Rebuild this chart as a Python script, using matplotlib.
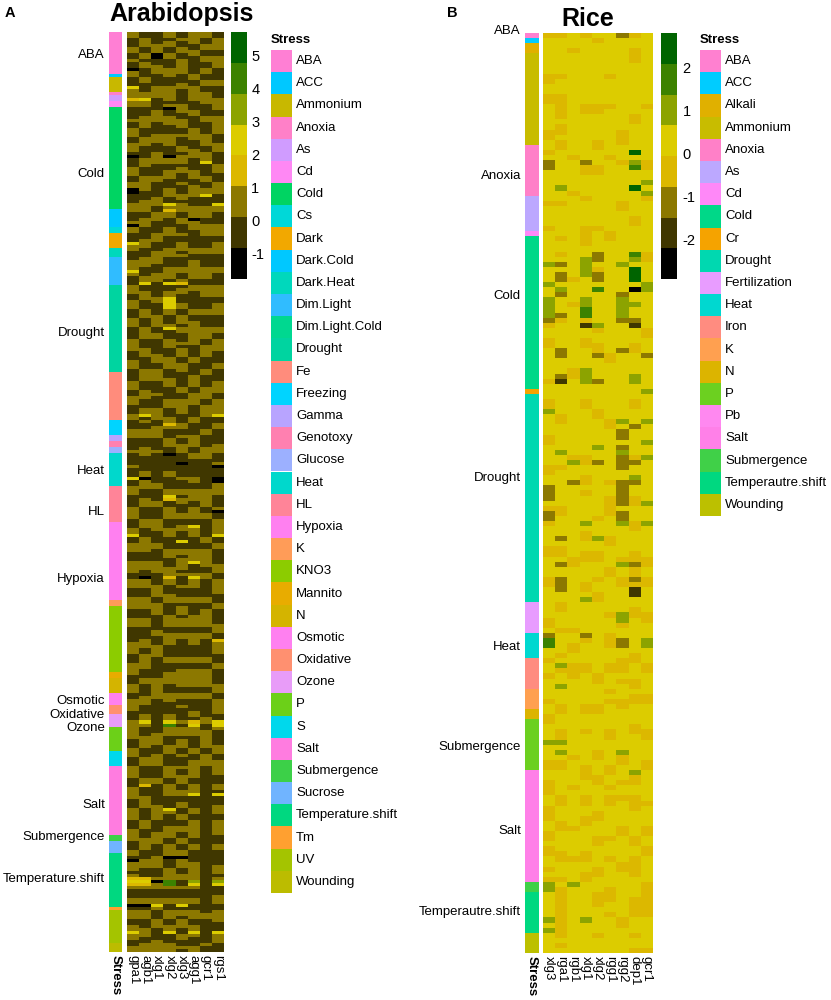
import numpy as np
import matplotlib
matplotlib.use("Agg")
import matplotlib.pyplot as plt
from matplotlib.colors import ListedColormap, BoundaryNorm
from matplotlib.transforms import blended_transform_factory

plt.rcParams['font.family'] = ['Liberation Sans', 'DejaVu Sans']

# colour steps of the expression scale, low -> high
heat_colors = ["#000000", "#403700", "#8C7800", "#DCB800",
               "#DCCC00", "#8CA300", "#3C8200", "#006400"]

# ---------------- Arabidopsis ----------------
arab_genes = ["gpa1", "agb1", "xlg1", "xlg2", "xlg3", "agg1", "gcr1", "rgs1"]
arab_stress = ["ABA", "ACC", "Ammonium", "Anoxia", "As", "Cd", "Cold", "Cs", "Dark",
               "Dark.Cold", "Dark.Heat", "Dim.Light", "Dim.Light.Cold", "Drought", "Fe",
               "Freezing", "Gamma", "Genotoxy", "Glucose", "Heat", "HL", "Hypoxia", "K",
               "KNO3", "Mannito", "N", "Osmotic", "Oxidative", "Ozone", "P", "S", "Salt",
               "Submergence", "Sucrose", "Temperature.shift", "Tm", "UV", "Wounding"]
arab_stress_colors = ["#FF7FD4", "#00C8FF", "#C8B800", "#FF80C8", "#D09CFF", "#FF88F4",
                      "#00D462", "#00D8D8", "#F2A800", "#00C8FF", "#00D8BC", "#30BCFF",
                      "#00D890", "#00D4A0", "#FF8C7C", "#00D4FF", "#B8A4FF", "#FF80B0",
                      "#9CB0FF", "#00D8CC", "#FF8498", "#FF80F0", "#FF9C58", "#8CCC00",
                      "#E8AC00", "#D4B400", "#FF80F0", "#FF9070", "#E89CF8", "#6CD018",
                      "#00D8EC", "#FF7CE0", "#3CD048", "#70B4FF", "#00D880", "#FFA030",
                      "#A4C400", "#BCBC00"]
# samples per stress, in row order
arab_segments = [("ABA", 14), ("ACC", 1), ("Ammonium", 5), ("Anoxia", 1), ("As", 2),
                 ("Cd", 2), ("Cold", 34), ("Dark.Cold", 6), ("Cs", 2), ("Dark", 5),
                 ("Dark.Heat", 3), ("Dim.Light", 9), ("Drought", 29), ("Fe", 16),
                 ("Freezing", 5), ("Gamma", 2), ("Genotoxy", 2), ("Glucose", 2),
                 ("Heat", 11), ("HL", 12), ("Hypoxia", 26), ("K", 2), ("KNO3", 22),
                 ("Mannito", 2), ("N", 5), ("Osmotic", 4), ("Oxidative", 3), ("Ozone", 4),
                 ("P", 8), ("S", 5), ("Salt", 23), ("Submergence", 2), ("Sucrose", 4),
                 ("Temperature.shift", 18), ("Tm", 1), ("UV", 11), ("Wounding", 3)]
arab_row_labels = [("ABA", 7.6), ("Cold", 47.2), ("Drought", 100.1), ("Heat", 146.0),
                   ("HL", 159.6), ("Hypoxia", 181.9), ("Osmotic", 222.6),
                   ("Oxidative", 227.2), ("Ozone", 231.6), ("Salt", 257.1),
                   ("Submergence", 267.7), ("Temperature.shift", 281.7)]
# one string per gene, one digit per sample = colour step
arab_cells = [
    "2211122112 1102211142 2232211112 1122211222 1011122211 2200111222 1112022111 4221112224 2111222112 2211122211 "
    "1122221112 2211112221 1222111221 1122211112 1111211141 1222111122 2211122411 2221112222 1122211122 2211122211 "
    "1112222111 2222111222 1122221112 2222211122 2111222211 1222211122 2211122221 1122102221 2343211122 0122211224 221122",
    "1122211221 2211122111 2242211122 2211122211 1122211122 2221112222 1122211112 2211122211 1224112221 1122211122 "
    "2211122211 1122221112 2211122412 1122211122 2111112202 2211122211 1122211122 2221112221 1022211122 2211122211 "
    "1122211222 2211122111 1222111224 2111222211 1222111122 3111222211 1122211122 2211122211 1343211122 0122211122 211222",
    "1111222001 1222111122 2211112222 1111222111 2222111122 1111122211 2221111222 1112222111 2221111122 1111222211 "
    "2211111222 1122221111 2111122221 1222211112 1111111111 2211112211 1122221111 2211112222 1111222211 2222111112 "
    "2111222211 1111122222 2211111111 1112222111 2222111122 1111111222 2211112222 1111222211 1202211122 4211122211 112222",
    "2212211221 1122211122 2221201122 2111222211 1022112221 1122211423 2211122211 1122211122 2214112244 4422111241 "
    "1122211122 2211122211 1122211122 3211122211 0111112211 1122431122 2211122211 1122211122 2322111222 1111222211 "
    "2222111122 1112222111 2221111224 6222111222 1111222211 2222111142 1111222211 2222011122 2266211122 1122211224 111222",
    "1121122112 2222111221 1111222112 2211211122 1222122111 2111221222 1122111211 2221211122 1123122111 2211222122 "
    "1112122211 2221111122 1122222111 2211211222 1110111121 1122122111 2211221114 1122122221 2111211122 1222122211 "
    "2211111122 1122222211 2211211112 1222122211 2111211222 1122112211 2211221122 1122022211 2211211122 4122122211 221121",
    "2222112211 1111221122 2221112211 1122221112 2211112221 1222211122 2202221111 1122112222 2211221111 1122112222 "
    "2222111122 1111222211 2222111122 1111222211 2211111122 1122221122 2211422211 1122224111 2422211122 1111222211 "
    "2222111122 1122222211 2211112213 4222111122 1122222211 2224111122 1122222211 2211112222 2254211122 1122211224 211122",
    "2211221122 1122112211 2222111122 1111222211 2224111122 1122411122 2211222211 1122111122 2211222211 1122111122 "
    "2211222211 1122111122 2211222211 1122111122 2211111111 1122222211 2211111122 1122222211 2211111122 1122222211 "
    "2211111122 1122222211 2211111122 1122222211 2222111111 1111111111 1111111111 1111111111 1111111111 1112211111 111211",
    "1122221122 2211112211 1122221122 2222111222 1111222111 2222111422 1111222211 2222111122 1111222211 2222111122 "
    "1122221111 2211112222 1122222411 2211111222 1112011100 2222111120 1122222411 2211111222 1122222111 2211111222 "
    "1132222111 2211111222 1122222114 4211111222 1122222111 2214111222 1122222111 2211111222 1254111222 1122221114 222111",
]
arab_level_values = [-1.3, -0.4, 0.55, 1.5, 2.45, 3.4, 4.3, 5.25]
arab_bounds = [-1.79, -0.85, 0.09, 1.03, 1.97, 2.91, 3.85, 4.79, 5.73]
arab_ticks = [-1, 0, 1, 2, 3, 4, 5]

# ---------------- Rice ----------------
rice_genes = ["xlg3", "rga1", "rgb1", "xlg1", "xlg2", "rgg1", "rgg2", "dep1", "gcr1"]
rice_stress = ["ABA", "ACC", "Alkali", "Ammonium", "Anoxia", "As", "Cd", "Cold", "Cr",
               "Drought", "Fertilization", "Heat", "Iron", "K", "N", "P", "Pb", "Salt",
               "Submergence", "Temperautre.shift", "Wounding"]
rice_stress_colors = ["#FF80D0", "#00CCFF", "#E0B000", "#C8BC00", "#FF80C8", "#BCA8FF",
                      "#FF88F8", "#00D888", "#F5A300", "#00D8B0", "#E89CFF", "#00D8D0",
                      "#FF8C80", "#FFA050", "#DCB400", "#6CD020", "#FF88F0", "#FF80E8",
                      "#40D048", "#00D880", "#BCC000"]
rice_segments = [("ABA", 1), ("ACC", 1), ("Alkali", 2), ("Ammonium", 18), ("Anoxia", 10),
                 ("As", 7), ("Cd", 1), ("Cold", 30), ("Cr", 1), ("Drought", 41),
                 ("Fertilization", 6), ("Heat", 5), ("Iron", 6), ("K", 4), ("N", 2),
                 ("P", 10), ("Salt", 22), ("Submergence", 2), ("Temperautre.shift", 8),
                 ("Wounding", 4)]
rice_row_labels = [("ABA", -0.4), ("Anoxia", 28.1), ("Cold", 51.8), ("Drought", 87.6),
                   ("Heat", 120.7), ("Submergence", 140.4), ("Salt", 156.9),
                   ("Temperautre.shift", 173.0)]
rice_cells = [
    "3444444433 4433444443 3443422444 4443444434 4444454445 4455552344 3344444434 4433544443 3444433442 "
    "2243223444 4334444334 4444433426 6443443444 4344334445 4443344333 4433344334 3344343554 4444545444 4",
    "3444444434 4433333433 4334444444 5443444444 3443424224 5244423444 4422444214 4444433444 4454434444 "
    "4443344442 4334244222 4433444344 4434534454 4433444335 4543344444 3344433444 4334443433 3333333343 4",
    "4443444444 4444444444 4444344444 4344444444 4444444434 4443444444 4444443344 4444444444 4443544424 "
    "4444444444 4443344444 4444444344 3344333444 4444444444 4434444434 4444443444 4434444544 4444444444 4",
    "3444444444 4444334444 4444423344 4434444433 3344555544 4455663144 3344445554 4433444444 4443344334 "
    "3444445433 4433444433 4544444423 4444334444 4433444344 4444333444 3344334444 4334433444 4444544444 4",
    "4344444444 4444334444 4334443344 4444444434 4442243224 6444444534 4332444424 4444334444 4544244444 "
    "4444434445 4433444344 3344444444 4444443344 4433444444 4334443344 4443344433 4444334443 3344444344 4",
    "4444444434 4444344444 4444344444 4444444443 3444444444 4444444444 4443344444 4444443344 4444444434 "
    "4333344443 3444433444 4444344433 3444334443 4344444334 4444334434 3344444434 4434444433 3443444444 4",
    "2444444444 4444444443 3344434444 4443344444 4444454444 4255552444 4424444444 4444445422 4252224422 "
    "2224225444 4443544334 4444553442 2443334344 4334444444 4533444344 3444443344 4443344444 4444334444 4",
    "3443334444 4444443344 4447456444 7444443344 4446547774 0445442144 4334444554 4433444244 4443244524 "
    "4334443344 4433233231 1443344444 4433444334 3344443344 4444453344 3334444433 4433334444 3333444344 3",
    "4444444444 4444344444 4444433445 4534444444 4443344445 5444444433 4442444444 5444445444 5445444444 "
    "4454445444 4443344334 4444334445 5444334444 3344444334 4443344444 4344443344 3344444333 3333444444 3",
]
rice_level_values = [-2.55, -1.85, -1.1, -0.4, 0.3, 1.0, 1.75, 2.45]
rice_bounds = [-2.91, -2.19, -1.48, -0.76, -0.05, 0.67, 1.38, 2.10, 2.81]
rice_ticks = [-2, -1, 0, 1, 2]

W, H = 831, 1000
fig = plt.figure(figsize=(W / 100, H / 100), dpi=100)
heat_cmap = ListedColormap(heat_colors)
FS = 9.5


def box(x0, y0, x1, y1):
    return fig.add_axes([x0 / W, 1 - y1 / H, (x1 - x0) / W, (y1 - y0) / H])


def clean(ax):
    for s in ax.spines.values():
        s.set_visible(False)


def panel(cells, genes, names, colors, segments, row_labels, levels, bounds, ticks,
          bar_px, heat_px, cbar_px, leg_px, label_right, cb_pad):
    cells = [c.replace(" ", "") for c in cells]
    nrows = len(cells[0])
    assert all(len(c) == nrows for c in cells), [len(c) for c in cells]
    assert sum(k for _, k in segments) == nrows
    values = np.array([[levels[int(ch)] for ch in col] for col in cells]).T
    norm = BoundaryNorm(bounds, len(heat_colors))

    # heatmap
    ax = box(*heat_px)
    ax.pcolormesh(values, cmap=heat_cmap, norm=norm)
    ax.set_xlim(0, len(genes))
    ax.set_ylim(nrows, 0)
    ax.set_xticks(np.arange(len(genes)) + 0.5)
    ax.set_xticklabels(genes, rotation=270, fontsize=FS)
    ax.set_yticks([])
    ax.tick_params(length=0, pad=2)
    clean(ax)

    # stress annotation bar
    rows = [names.index(n) for n, k in segments for _ in range(k)]
    bx = box(*bar_px)
    bx.pcolormesh(np.array(rows)[:, None], cmap=ListedColormap(colors),
                  vmin=-0.5, vmax=len(names) - 0.5)
    bx.set_xlim(0, 1)
    bx.set_ylim(nrows, 0)
    bx.set_xticks([0.5])
    bx.set_xticklabels(["Stress"], rotation=270, fontsize=FS, fontweight="bold")
    bx.set_yticks([])
    bx.tick_params(length=0, pad=2)
    clean(bx)
    tr = blended_transform_factory(fig.transFigure, bx.transData)
    for name, y in row_labels:
        bx.text(label_right / W, y, name, transform=tr, ha="right", va="center",
                fontsize=FS, clip_on=False)

    # colour key
    cx = box(*cbar_px)
    cx.pcolormesh([0, 1], bounds, np.array(levels)[:, None], cmap=heat_cmap, norm=norm)
    cx.set_ylim(bounds[0], bounds[-1])
    cx.set_xticks([])
    cx.yaxis.tick_right()
    cx.set_yticks(ticks)
    cx.set_yticklabels([str(t) for t in ticks], fontsize=FS + 1)
    cx.tick_params(length=0, pad=cb_pad)
    clean(cx)

    # stress legend
    lx = box(*leg_px)
    n = len(names)
    lx.set_xlim(0, leg_px[2] - leg_px[0])
    lx.set_ylim(n, 0)
    lx.barh(np.arange(n) + 0.5, 21, height=1.0, left=0, color=colors, linewidth=0)
    for i, name in enumerate(names):
        lx.text(25, i + 0.5, name, va="center", ha="left", fontsize=FS)
    lx.axis("off")
    fig.text(leg_px[0] / W, 1 - (leg_px[1] - 10) / H, "Stress", fontsize=FS,
             fontweight="bold", va="center", ha="left")


panel(arab_cells, arab_genes, arab_stress, arab_stress_colors, arab_segments,
      arab_row_labels, arab_level_values, arab_bounds, arab_ticks,
      bar_px=(109, 32, 122, 952), heat_px=(127, 32, 224, 952),
      cbar_px=(231, 32, 247, 279), leg_px=(271, 50, 420, 893),
      label_right=105, cb_pad=3)

panel(rice_cells, rice_genes, rice_stress, rice_stress_colors, rice_segments,
      rice_row_labels, rice_level_values, rice_bounds, rice_ticks,
      bar_px=(525, 33, 539, 953), heat_px=(543, 33, 653, 953),
      cbar_px=(661, 33, 677, 279), leg_px=(700, 50, 831, 516),
      label_right=521, cb_pad=4)

fig.text(182 / W, 1 - 21 / H, "Arabidopsis", fontsize=18, fontweight="bold",
         ha="center", va="baseline")
fig.text(588 / W, 1 - 26 / H, "Rice", fontsize=18, fontweight="bold",
         ha="center", va="baseline")
fig.text(5 / W, 1 - 17 / H, "A", fontsize=10.5, fontweight="bold", ha="left", va="baseline")
fig.text(447 / W, 1 - 17 / H, "B", fontsize=10.5, fontweight="bold", ha="left", va="baseline")

fig.savefig("out.png", dpi=100)
